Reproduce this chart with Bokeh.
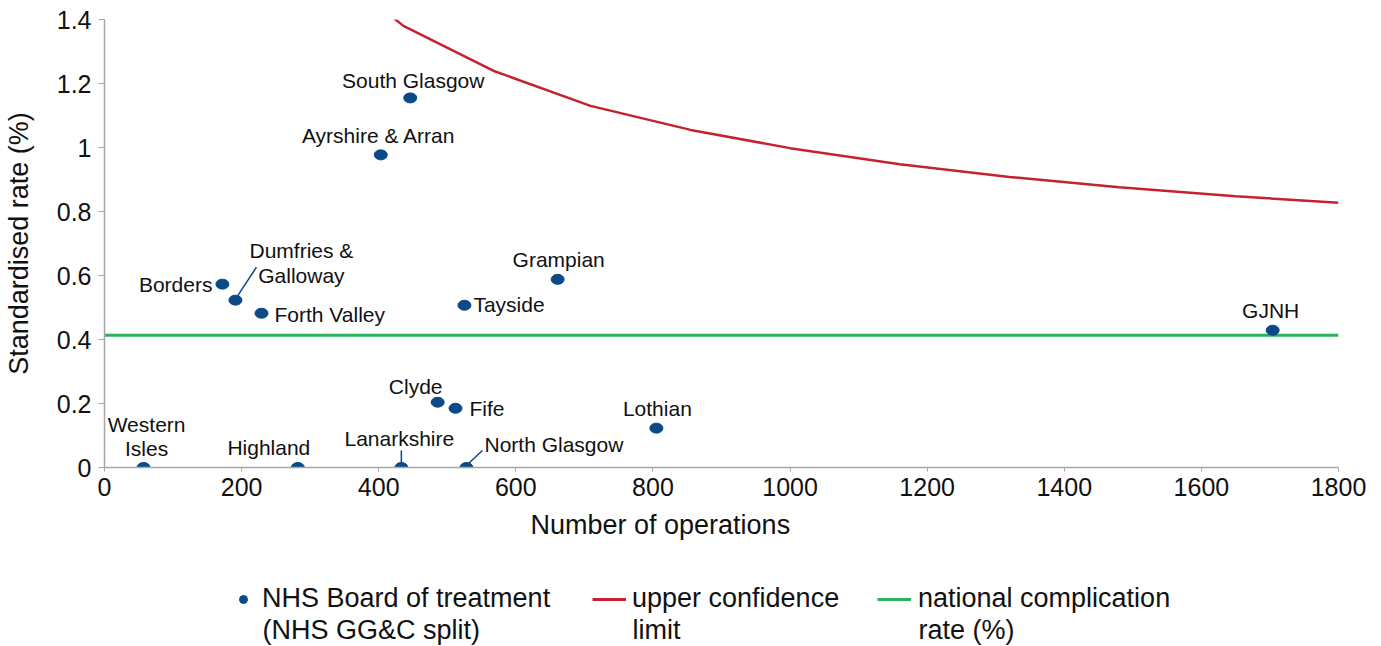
import numpy as np
from bokeh.plotting import figure
from bokeh.layouts import column
from bokeh.models import (Range1d, FixedTicker, Legend, LegendItem, ColumnDataSource,
                          Title, Label)
from bokeh.core.properties import value
from bokeh.embed import file_html
from bokeh.resources import INLINE

# ---- data ----
boards = ["South Glasgow", "Ayrshire & Arran", "Borders", "Dumfries &\nGalloway",
          "Forth Valley", "Tayside", "Grampian", "GJNH", "Clyde", "Fife", "Lothian",
          "Western\nIsles", "Highland", "Lanarkshire", "North Glasgow"]
operations = [446, 403, 172, 191, 229, 525, 661, 1704, 486, 512, 805, 57, 282, 433, 528]
rate = [1.155, 0.977, 0.573, 0.523, 0.482, 0.507, 0.588, 0.429, 0.204, 0.185, 0.123,
        0.0, 0.0, 0.0, 0.0]

ucl_x = [410, 436, 567, 709, 855, 1000, 1160, 1320, 1480, 1650, 1800]
ucl_y = [1.425, 1.38, 1.24, 1.13, 1.055, 0.998, 0.948, 0.908, 0.876, 0.848, 0.827]

national_rate = 0.413

y_ticks = [0, 0.2, 0.4, 0.6, 0.8, 1.0, 1.2, 1.4]
y_tick_labels = ["0", "0.2", "0.4", "0.6", "0.8", "1", "1.2", "1.4"]
x_ticks = [0, 200, 400, 600, 800, 1000, 1200, 1400, 1600, 1800]

x_title = "Number of operations"
y_title = "Standardised rate (%)"
legend_line1 = ["NHS Board of treatment", "upper confidence", "national complication"]
legend_line2 = ["(NHS GG&C split)", "limit", "rate (%)"]

# ---- label styling (screen offsets in px; dy positive = up) ----
label_dx = [3, -2, -10, 66, 13, 9, 1, -2, -22, 14, 1, 3, -29, -2, 18]
label_dy = [17, 19, 0, 37, -1, 1, 20, 20, 16, 0, 20, 31, 20, 29, 23]
label_align = ["center", "center", "right", "center", "left", "left", "center", "center",
               "center", "left", "center", "center", "center", "center", "left"]

FONT = "Liberation Sans"
DOT = "#0b4a87"
RED = "#c42230"
GREEN = "#2cb45c"
AXIS = "#a6a6a6"
TXT = "#111111"

W = 1381
H1 = 550
H2 = 96
BL, BR, BT = 104, 43, 19
frame_w = W - BL - BR
frame_h = 448
BB = H1 - BT - frame_h

p = figure(width=W, height=H1, output_backend="svg", toolbar_location=None,
           x_range=Range1d(0, 1800), y_range=Range1d(0, 1.4),
           min_border_left=BL, min_border_right=BR, min_border_top=BT, min_border_bottom=BB)
p.outline_line_color = None
p.grid.visible = False

px_x = frame_w / 1800.0
px_y = frame_h / 1.4

# axes
p.xaxis.ticker = FixedTicker(ticks=x_ticks)
p.yaxis.ticker = FixedTicker(ticks=y_ticks)
p.yaxis.major_label_overrides = {t: l for t, l in zip(y_ticks, y_tick_labels)}
for ax in (p.xaxis[0], p.yaxis[0]):
    ax.axis_line_color = AXIS
    ax.axis_line_width = 1.5
    ax.major_tick_line_color = AXIS
    ax.major_tick_in = 0
    ax.minor_tick_line_color = None
    ax.major_label_text_font = FONT
    ax.major_label_text_font_size = "25px"
    ax.major_label_text_color = TXT
    ax.axis_label_text_font = FONT
    ax.axis_label_text_font_size = "27px"
    ax.axis_label_text_font_style = "normal"
    ax.axis_label_text_color = TXT
p.xaxis.major_tick_out = 4
p.yaxis.major_tick_out = 6
p.xaxis.major_label_standoff = 6
p.yaxis.major_label_standoff = 7
p.yaxis.axis_label = y_title
p.yaxis.axis_label_standoff = 20

p.add_layout(Title(text=x_title, align="left", offset=426, standoff=19,
                   text_font=FONT, text_font_size="27px", text_font_style="normal",
                   text_color=TXT), "below")

# lines
p.line(x=[0, 1800], y=[national_rate, national_rate], line_color=GREEN, line_width=3)
p.line(x=ucl_x, y=ucl_y, line_color=RED, line_width=2.5)

# leader lines (Dumfries & Galloway, Lanarkshire, North Glasgow)
lead_idx = [3, 13, 14]
lead_start = [(2, 4), (0, 4), (2, 4)]
lead_end = [(21, 33), (0, 17), (16, 17)]
sx0 = [operations[i] + s[0] / px_x for i, s in zip(lead_idx, lead_start)]
sy0 = [rate[i] + s[1] / px_y for i, s in zip(lead_idx, lead_start)]
sx1 = [operations[i] + e[0] / px_x for i, e in zip(lead_idx, lead_end)]
sy1 = [rate[i] + e[1] / px_y for i, e in zip(lead_idx, lead_end)]
p.segment(x0=sx0, y0=sy0, x1=sx1, y1=sy1, line_color=DOT, line_width=1.5)

src = ColumnDataSource(dict(x=operations, y=rate, name=boards, dx=label_dx,
                            dy=[-d for d in label_dy], align=label_align))
p.ellipse(x="x", y="y", width=13, height=10, width_units="screen",
          height_units="screen", source=src, fill_color=DOT, line_color=DOT)
p.text(x="x", y="y", text="name", x_offset="dx", y_offset="dy", text_align="align",
       text_baseline="middle", source=src, text_font=value(FONT), text_font_size="21px",
       text_color=TXT, text_line_height=1.08)

# ---- legend strip ----
p2 = figure(width=W, height=H2, output_backend="svg", toolbar_location=None,
            x_range=Range1d(0, W), y_range=Range1d(0, H2),
            x_axis_location=None, y_axis_location=None, min_border=0)
p2.outline_line_color = None
p2.grid.visible = False
nan = np.array([np.nan])
lr_pts = p2.scatter(x=nan, y=nan, marker="circle", size=10, fill_color=DOT, line_color=DOT)
lr_ucl = p2.line(x=nan, y=nan, line_color=RED, line_width=3)
lr_nat = p2.line(x=nan, y=nan, line_color=GREEN, line_width=3)

leg_x = [127, 488, 773]
leg_gw = [24, 34, 34]
leg_standoff = [7, 6, 7]
for l1, l2, r, x, gw, so in zip(legend_line1, legend_line2, [lr_pts, lr_ucl, lr_nat],
                                leg_x, leg_gw, leg_standoff):
    lg = Legend(items=[LegendItem(label=l1, renderers=[r])],
                location=(x, 32), orientation="vertical",
                glyph_width=gw, glyph_height=20, label_standoff=so,
                padding=0, margin=0, spacing=0,
                border_line_alpha=0, background_fill_alpha=0,
                label_text_font=FONT, label_text_font_size="27px",
                label_text_color=TXT)
    p2.add_layout(lg, "center")
    p2.add_layout(Label(x=x + gw + so, y=17, x_units="screen", y_units="screen", text=l2,
                        text_baseline="middle", text_font=FONT, text_font_size="27px",
                        text_color=TXT))

open("out.html", "w").write(file_html(column(p, p2), INLINE))
